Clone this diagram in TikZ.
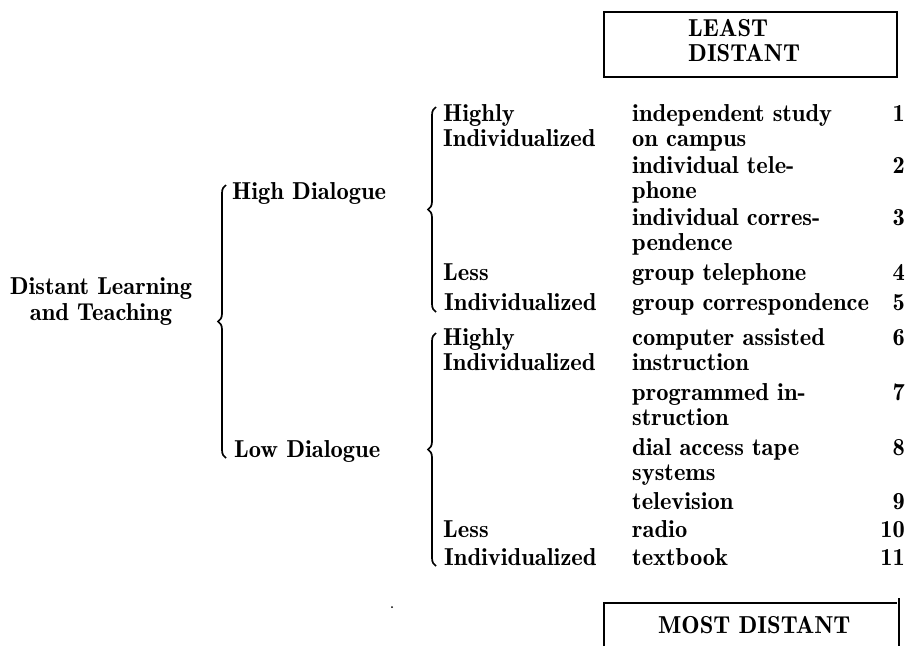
\documentclass[tikz,border=0pt]{standalone}
\usepackage{fontspec}
\setmainfont{lmromandemi10-regular.otf}
\usetikzlibrary{decorations.pathreplacing}
\begin{document}
\begin{tikzpicture}[x=1pt,y=-1pt,
  txt/.style={font=\fontsize{24.5}{25.5}\selectfont, inner sep=0pt},
  lbl/.style={txt, anchor=base west},
  num/.style={txt, anchor=base east},
  brc/.style={decorate, decoration={brace, amplitude=8pt}, line width=1.7pt},
  frame/.style={line width=1.3pt}]
\useasboundingbox (0,0) rectangle (907,646);

% root
\node[txt, align=center, anchor=base] (root) at (101,320) {Distant Learning\\and Teaching};

% first split
\coordinate (b1t) at (226,185);
\coordinate (b1b) at (226,458);
\draw[brc] (b1b) -- (b1t);
\node[lbl] (hd) at (232,199) {High Dialogue};
\node[lbl] (ld) at (234,457) {Low Dialogue};

% second split: high dialogue
\coordinate (b2t) at (436,107);
\coordinate (b2b) at (436,312);
\draw[brc] (b2b) -- (b2t);
\node[lbl] (h1) at (443,121) {Highly};
\node[lbl] (h2) at (443,146) {Individualized};
\node[lbl] (h3) at (443,280) {Less};
\node[lbl] (h4) at (444,310) {Individualized};

% second split: low dialogue
\coordinate (b3t) at (436,333);
\coordinate (b3b) at (436,566);
\draw[brc] (b3b) -- (b3t);
\node[lbl] (l1) at (443,345) {Highly};
\node[lbl] (l2) at (443,370) {Individualized};
\node[lbl] (l3) at (443,537) {Less};
\node[lbl] (l4) at (444,565) {Individualized};

% media, with their rank
\node[lbl] (m1a) at (632,121) {independent study};
\node[lbl] (m1b) at (632,146) {on campus};
\node[num] (n1)  at (905,121) {1};
\node[lbl] (m2a) at (632,173) {individual tele-};
\node[lbl] (m2b) at (632,198) {phone};
\node[num] (n2)  at (905,173) {2};
\node[lbl] (m3a) at (632,225) {individual corres-};
\node[lbl] (m3b) at (632,250) {pendence};
\node[num] (n3)  at (905,225) {3};
\node[lbl] (m4)  at (632,280) {group telephone};
\node[num] (n4)  at (905,280) {4};
\node[lbl] (m5)  at (632,310) {group correspondence};
\node[num] (n5)  at (905,310) {5};
\node[lbl] (m6a) at (632,345) {computer assisted};
\node[lbl] (m6b) at (632,370) {instruction};
\node[num] (n6)  at (905,345) {6};
\node[lbl] (m7a) at (632,400) {programmed in-};
\node[lbl] (m7b) at (632,425) {struction};
\node[num] (n7)  at (905,400) {7};
\node[lbl] (m8a) at (632,455) {dial access tape};
\node[lbl] (m8b) at (632,480) {systems};
\node[num] (n8)  at (905,455) {8};
\node[lbl] (m9)  at (632,509) {television};
\node[num] (n9)  at (905,509) {9};
\node[lbl] (m10) at (632,537) {radio};
\node[num] (n10) at (905,537) {10};
\node[lbl] (m11) at (632,565) {textbook};
\node[num] (n11) at (905,565) {11};

% end markers
\draw[frame] (604,12) rectangle (897,77);
\node[lbl] (least1) at (688,36) {LEAST};
\node[lbl] (least2) at (688,61) {DISTANT};

\draw[frame] (604,646) -- (604,603) -- (897,603);
\draw[line width=2pt] (899,598) -- (899,646);
\node[lbl] (most) at (658,633) {MOST DISTANT};

\fill (392,607) circle (1pt);
\end{tikzpicture}
\end{document}
